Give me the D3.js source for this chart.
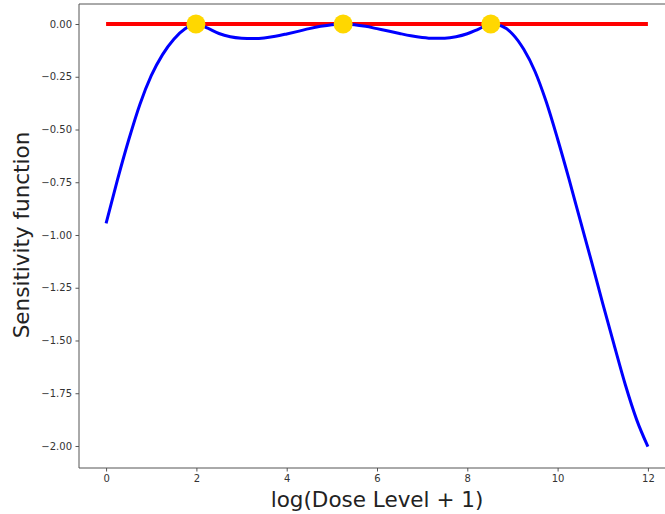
<!DOCTYPE html>
<html>
<head>
<meta charset="utf-8">
<script src="https://cdn.jsdelivr.net/npm/d3@7"></script>
<style>
  html, body { margin: 0; padding: 0; background: #fff; }
  svg { display: block; font-family: "DejaVu Sans", sans-serif; }
</style>
</head>
<body>
<svg id="chart" width="665" height="514"></svg>
<script>
// Sensitivity function curve
const curveX = [0, 0.25, 0.5, 0.75, 1.0, 1.25, 1.5, 1.75, 2.0,
  2.25, 2.5, 2.75, 3.0, 3.25, 3.5, 3.75, 4.0, 4.25, 4.5, 4.75, 5.0, 5.25,
  5.5, 5.75, 6.0, 6.25, 6.5, 6.75, 7.0, 7.25, 7.5, 7.75, 8.0, 8.25, 8.52,
  8.75, 9.0, 9.25, 9.5, 9.75, 10.0, 10.25, 10.5, 10.75, 11.0, 11.25, 11.5, 11.75, 12.0];
const curveY = [-0.945, -0.74, -0.55, -0.38, -0.245, -0.145, -0.072, -0.023, 0.0,
  -0.02, -0.045, -0.06, -0.067, -0.069, -0.066, -0.058, -0.047, -0.035, -0.022, -0.011, -0.003, 0.0,
  -0.003, -0.011, -0.022, -0.033, -0.045, -0.056, -0.064, -0.068, -0.067, -0.06, -0.046, -0.024, 0.0,
  -0.009, -0.047, -0.12, -0.225, -0.37, -0.545, -0.733, -0.93, -1.125, -1.325, -1.52, -1.71, -1.875, -2.003];
// Reference line y = 0
const refX = [0, 12];
const refY = [0, 0];
// Design points (support points)
const designX = [1.99, 5.25, 8.52];
const designY = [0, 0, 0];
// Tick values
const xTicks = [0, 2, 4, 6, 8, 10, 12];
const yTicks = [0, -0.25, -0.5, -0.75, -1.0, -1.25, -1.5, -1.75, -2.0];

const mLeft = 79, mTop = 4, mBottom = 468, mRight = 675;
const svg = d3.select("#chart");

const x = d3.scaleLinear().domain([-0.6, 12.6]).range([mLeft, mRight]);
const y = d3.scaleLinear().domain([-2.1043, 0.0948]).range([mBottom, mTop]);

const ref = refX.map((v, i) => [v, refY[i]]);
svg.append("path").datum(ref)
  .attr("d", d3.line().x(d => x(d[0])).y(d => y(d[1])))
  .attr("fill", "none").attr("stroke", "#ff0000").attr("stroke-width", 4);

const line = d3.line().x(d => x(d[0])).y(d => y(d[1])).curve(d3.curveMonotoneX);
const curve = curveX.map((v, i) => [v, curveY[i]]);
svg.append("path").datum(curve)
  .attr("d", line).attr("fill", "none").attr("stroke", "#0000ff").attr("stroke-width", 3)
  .attr("stroke-linejoin", "round").attr("stroke-linecap", "butt");

svg.selectAll("circle.dp").data(designX.map((v, i) => [v, designY[i]])).enter()
  .append("circle").attr("class", "dp")
  .attr("cx", d => x(d[0])).attr("cy", d => y(d[1])).attr("r", 9.5)
  .attr("fill", "#ffd700");

// Axes
const fmtY = d3.format(".2f");
const xAxis = d3.axisBottom(x).tickValues(xTicks).tickFormat(d3.format("d")).tickSize(3.5).tickPadding(3.5);
const yAxis = d3.axisLeft(y).tickValues(yTicks).tickFormat(fmtY).tickSize(3.5).tickPadding(3.5);

const gx = svg.append("g").attr("transform", `translate(0,${mBottom})`).call(xAxis);
const gy = svg.append("g").attr("transform", `translate(${mLeft},0)`).call(yAxis);
[gx, gy].forEach(g => {
  g.select(".domain").remove();
  g.selectAll("line").attr("stroke", "#555");
  g.selectAll("text").attr("fill", "#333").style("font-size", "10px").style("font-family", "DejaVu Sans, sans-serif");
});

// Spines (left, bottom, top; right falls outside the window)
svg.append("line").attr("x1", mLeft).attr("x2", mLeft).attr("y1", mTop).attr("y2", mBottom).attr("stroke", "#555");
svg.append("line").attr("x1", mLeft).attr("x2", mRight).attr("y1", mBottom).attr("y2", mBottom).attr("stroke", "#555");
svg.append("line").attr("x1", mLeft).attr("x2", mRight).attr("y1", mTop).attr("y2", mTop).attr("stroke", "#555");

// Axis labels
svg.append("text").attr("x", (x(0) + x(12)) / 2).attr("y", 507)
  .attr("text-anchor", "middle").style("font-size", "21.5px").attr("fill", "#222")
  .text("log(Dose Level + 1)");
svg.append("text").attr("transform", `translate(29,${(y(0) + y(-2)) / 2}) rotate(-90)`)
  .attr("text-anchor", "middle").style("font-size", "21.5px").attr("fill", "#222")
  .text("Sensitivity function");
</script>
</body>
</html>
